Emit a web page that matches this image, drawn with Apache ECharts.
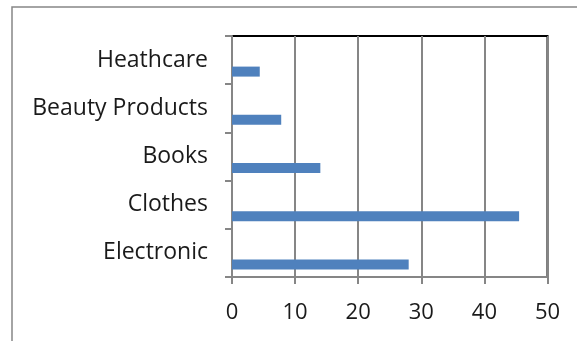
<!DOCTYPE html>
<html>
<head>
<meta charset="utf-8">
<script src="https://cdn.jsdelivr.net/npm/echarts@6/dist/echarts.min.js"></script>
<style>
html,body{margin:0;padding:0;background:#fff;}
#chart{width:577px;height:341px;}
</style>
</head>
<body>
<div id="chart"></div>
<script>
const categories = ['Electronic', 'Clothes', 'Books', 'Beauty Products', 'Heathcare'];
const values = [28, 45.5, 14, 7.8, 4.4];
const xTicks = { min: 0, max: 50, interval: 10 };

const chart = echarts.init(document.getElementById('chart'));
const gray = '#868686';
const font = 'Open Sans';
chart.setOption({
  animation: false,
  graphic: [{
    type: 'rect',
    shape: { x: 12, y: 7, width: 700, height: 500 },
    style: { fill: 'none', stroke: gray, lineWidth: 1.5 },
    silent: true
  }],
  grid: {
    left: 232, right: 29.5, top: 36, bottom: 64,
    show: true, borderColor: '#000', borderWidth: 2, backgroundColor: 'transparent'
  },
  xAxis: {
    type: 'value',
    min: xTicks.min, max: xTicks.max, interval: xTicks.interval,
    axisLine: { show: true, lineStyle: { color: gray, width: 2 } },
    axisTick: { show: true, length: 7, lineStyle: { color: gray, width: 2 } },
    splitLine: { show: true, lineStyle: { color: gray, width: 2 } },
    axisLabel: { color: '#1a1a1a', fontFamily: font, fontSize: 22, margin: 25 }
  },
  yAxis: {
    type: 'category',
    data: categories,
    axisLine: { show: true, lineStyle: { color: gray, width: 2 } },
    axisTick: { show: true, length: 7, lineStyle: { color: gray, width: 2 } },
    axisLabel: { color: '#1a1a1a', fontFamily: font, fontSize: 23, margin: 24 }
  },
  series: [
    { type: 'bar', data: categories.map(() => '-'), barWidth: 10, barGap: '130%',
      itemStyle: { color: '#C0504D' } },
    { type: 'bar', data: values, barWidth: 10, barGap: '130%',
      itemStyle: { color: '#4F81BD' } }
  ]
});
</script>
</body>
</html>
